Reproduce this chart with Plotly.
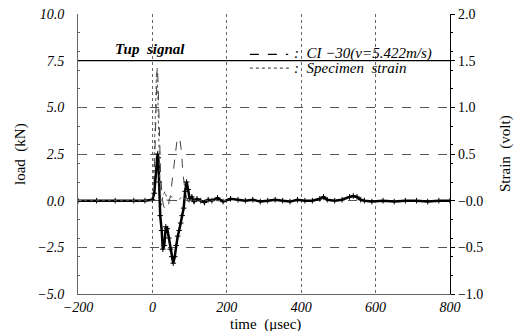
import plotly.graph_objects as go

# ---- data ----
tup_t = [-200, -150, -100, -50, -20, 0, 5, 10, 14, 16, 18, 21, 25, 28, 32, 36, 40, 44, 48, 52, 56, 60, 64, 68, 72, 76, 80, 84, 88, 92, 96, 100, 106, 112, 120, 130, 140, 150, 160, 175, 190, 210, 230, 250, 270, 290, 310, 330, 350, 370, 390, 410, 430, 450, 460, 470, 490, 510, 530, 540, 550, 560, 570, 590, 620, 650, 680, 710, 740, 770, 800]
tup_v = [0.0, 0.0, 0.0, 0.0, 0.0, 0.05, 0.4, 1.6, 2.5, 2.3, 1.0, -0.8, -1.6, -2.6, -2.4, -1.4, -1.5, -2.0, -2.6, -3.0, -3.35, -3.0, -2.4, -1.9, -1.6, -1.2, -0.8, -0.4, 0.5, 1.0, 0.6, 0.1, 0.2, -0.05, 0.1, 0.0, -0.1, 0.05, 0.0, 0.15, -0.05, 0.1, 0.05, 0.0, 0.05, -0.05, 0.0, 0.05, 0.0, -0.05, 0.05, 0.0, 0.0, 0.1, 0.2, 0.05, 0.0, 0.05, 0.2, 0.25, 0.2, 0.05, 0.0, -0.05, 0.0, -0.05, 0.0, 0.0, -0.05, 0.0, 0.0]

ci_t = [-200, -100, 0, 4, 8, 11, 13, 15, 18, 22, 26, 30, 36, 42, 48, 54, 60, 66, 70, 74, 78, 82, 88, 94, 100, 110, 130, 160, 200]
ci_v = [0.0, 0.0, 0.0, 0.5, 3.0, 6.0, 7.2, 6.5, 4.0, 1.5, 0.2, -0.3, -0.5, -0.3, 0.2, 1.2, 2.4, 3.2, 3.4, 3.3, 2.6, 1.5, 0.5, 0.0, -0.1, 0.0, 0.0, 0.0, 0.0]

sp_t = [-200, -100, 0, 3, 6, 9, 11, 14, 17, 20, 24, 28, 34, 40, 50, 60, 70, 80, 90, 100, 120, 150, 200]
sp_v = [0.0, 0.0, 0.0, 0.2, 0.7, 1.2, 1.38, 1.2, 0.7, 0.2, -0.05, 0.05, 0.1, 0.0, 0.05, 0.0, 0.0, 0.05, 0.0, 0.0, 0.0, 0.0, 0.0]

x_ticks = [-200, 0, 200, 400, 600, 800]
x_labels = ["−200", "0", "200", "400", "600", "800"]
y_ticks = [-5.0, -2.5, 0.0, 2.5, 5.0, 7.5, 10.0]
y_labels = ["−5.0", "−2.5", "0.0", "2.5", "5.0", "7.5", "10.0"]
y2_ticks = [-1.0, -0.5, 0.0, 0.5, 1.0, 1.5, 2.0]
y2_labels = ["−1.0", "−0.5", "−0.0", "0.5", "1.0", "1.5", "2.0"]

SERIF = "Liberation Serif, DejaVu Serif, serif"

fig = go.Figure()
fig.add_trace(go.Scatter(x=sp_t, y=sp_v, yaxis="y2", mode="lines",
                         line=dict(color="#555", width=1, dash="dot"), name="Specimen strain"))
fig.add_trace(go.Scatter(x=ci_t, y=ci_v, mode="lines",
                         line=dict(color="#444", width=1, dash="dash"), name="CI-30(v=5.422m/s)"))
fig.add_trace(go.Scatter(x=tup_t, y=tup_v, mode="lines+markers",
                         line=dict(color="black", width=2.5),
                         marker=dict(symbol="cross-thin", size=4, color="black",
                                     line=dict(color="black", width=1)),
                         name="Tup signal"))

# solid reference line at 7.5
fig.add_shape(type="line", xref="paper", x0=0, x1=1, yref="y", y0=7.5, y1=7.5,
              line=dict(color="black", width=1.2))

# legend-style text
fig.add_annotation(x=0.095, y=0.875, xref="paper", yref="paper", yanchor="middle",
                   text="<b><i>Tup  signal</i></b>",
                   showarrow=False, xanchor="left", font=dict(family=SERIF, size=15, color="black"))
fig.add_shape(type="line", xref="paper", yref="paper", x0=0.462, x1=0.565, y0=0.856, y1=0.856,
              line=dict(color="black", width=1.2, dash="dash"))
fig.add_annotation(x=0.575, y=0.858, xref="paper", yref="paper", yanchor="middle",
                   text="<i>:  CI −30(v=5.422m/s)</i>",
                   showarrow=False, xanchor="left", font=dict(family=SERIF, size=15, color="black"))
fig.add_shape(type="line", xref="paper", yref="paper", x0=0.462, x1=0.568, y0=0.807, y1=0.807,
              line=dict(color="#555", width=1.2, dash="dot"))
fig.add_annotation(x=0.575, y=0.807, xref="paper", yref="paper", yanchor="middle",
                   text="<i>:  Specimen  strain</i>",
                   showarrow=False, xanchor="left", font=dict(family=SERIF, size=15, color="black"))

# axis titles as annotations
fig.add_annotation(x=0.505, y=0, xref="paper", yref="paper", yshift=-20, yanchor="top",
                   text="time  (μsec)", showarrow=False, font=dict(family=SERIF, size=15))
fig.add_annotation(x=0, y=0.5, xref="paper", yref="paper", xshift=-58, xanchor="center",
                   text="load  (kN)", textangle=-90, showarrow=False, font=dict(family=SERIF, size=15))
fig.add_annotation(x=1, y=0.5, xref="paper", yref="paper", xshift=55, xanchor="center",
                   text="Strain  (volt)", textangle=-90, showarrow=False, font=dict(family=SERIF, size=15))

# page body has an 8px default margin, so the figure is sized/offset to compensate
fig.update_layout(
    width=514, height=323,
    margin=dict(l=70, r=72, t=6, b=37),
    paper_bgcolor="white", plot_bgcolor="white",
    showlegend=False,
    font=dict(family=SERIF, size=12, color="black"),
    xaxis=dict(range=[-200, 800], tickvals=x_ticks, ticktext=x_labels, automargin=False,
               tickfont=dict(family=SERIF, size=14, style="italic"), ticklabeloverflow="allow",
               showgrid=True, gridcolor="#666", griddash="dot", gridwidth=1,
               zeroline=False, showline=True, linecolor="#666", mirror=False, ticks=""),
    yaxis=dict(range=[-5, 10], tickvals=y_ticks, ticktext=y_labels, automargin=False,
               tickfont=dict(family=SERIF, size=14, style="italic"), ticklabeloverflow="allow",
               ticklabelstandoff=10,
               showgrid=True, gridcolor="#555", griddash="dash", gridwidth=1,
               zeroline=False, showline=True, linecolor="#666",
               ticks="inside", ticklen=4, tickcolor="#666",
               minor=dict(ticks="inside", ticklen=2, nticks=5, tickcolor="#666")),
    yaxis2=dict(range=[-1, 2], overlaying="y", side="right", tickvals=y2_ticks, ticktext=y2_labels,
                automargin=False, ticklabeloverflow="allow",
                tickfont=dict(family=SERIF, size=14), showgrid=False, zeroline=False,
                showline=True, linecolor="black", linewidth=1.2,
                ticks="outside", ticklen=4, tickcolor="black",
                minor=dict(ticks="outside", ticklen=2, nticks=5, tickcolor="black")),
)

fig.write_html("out.html")
